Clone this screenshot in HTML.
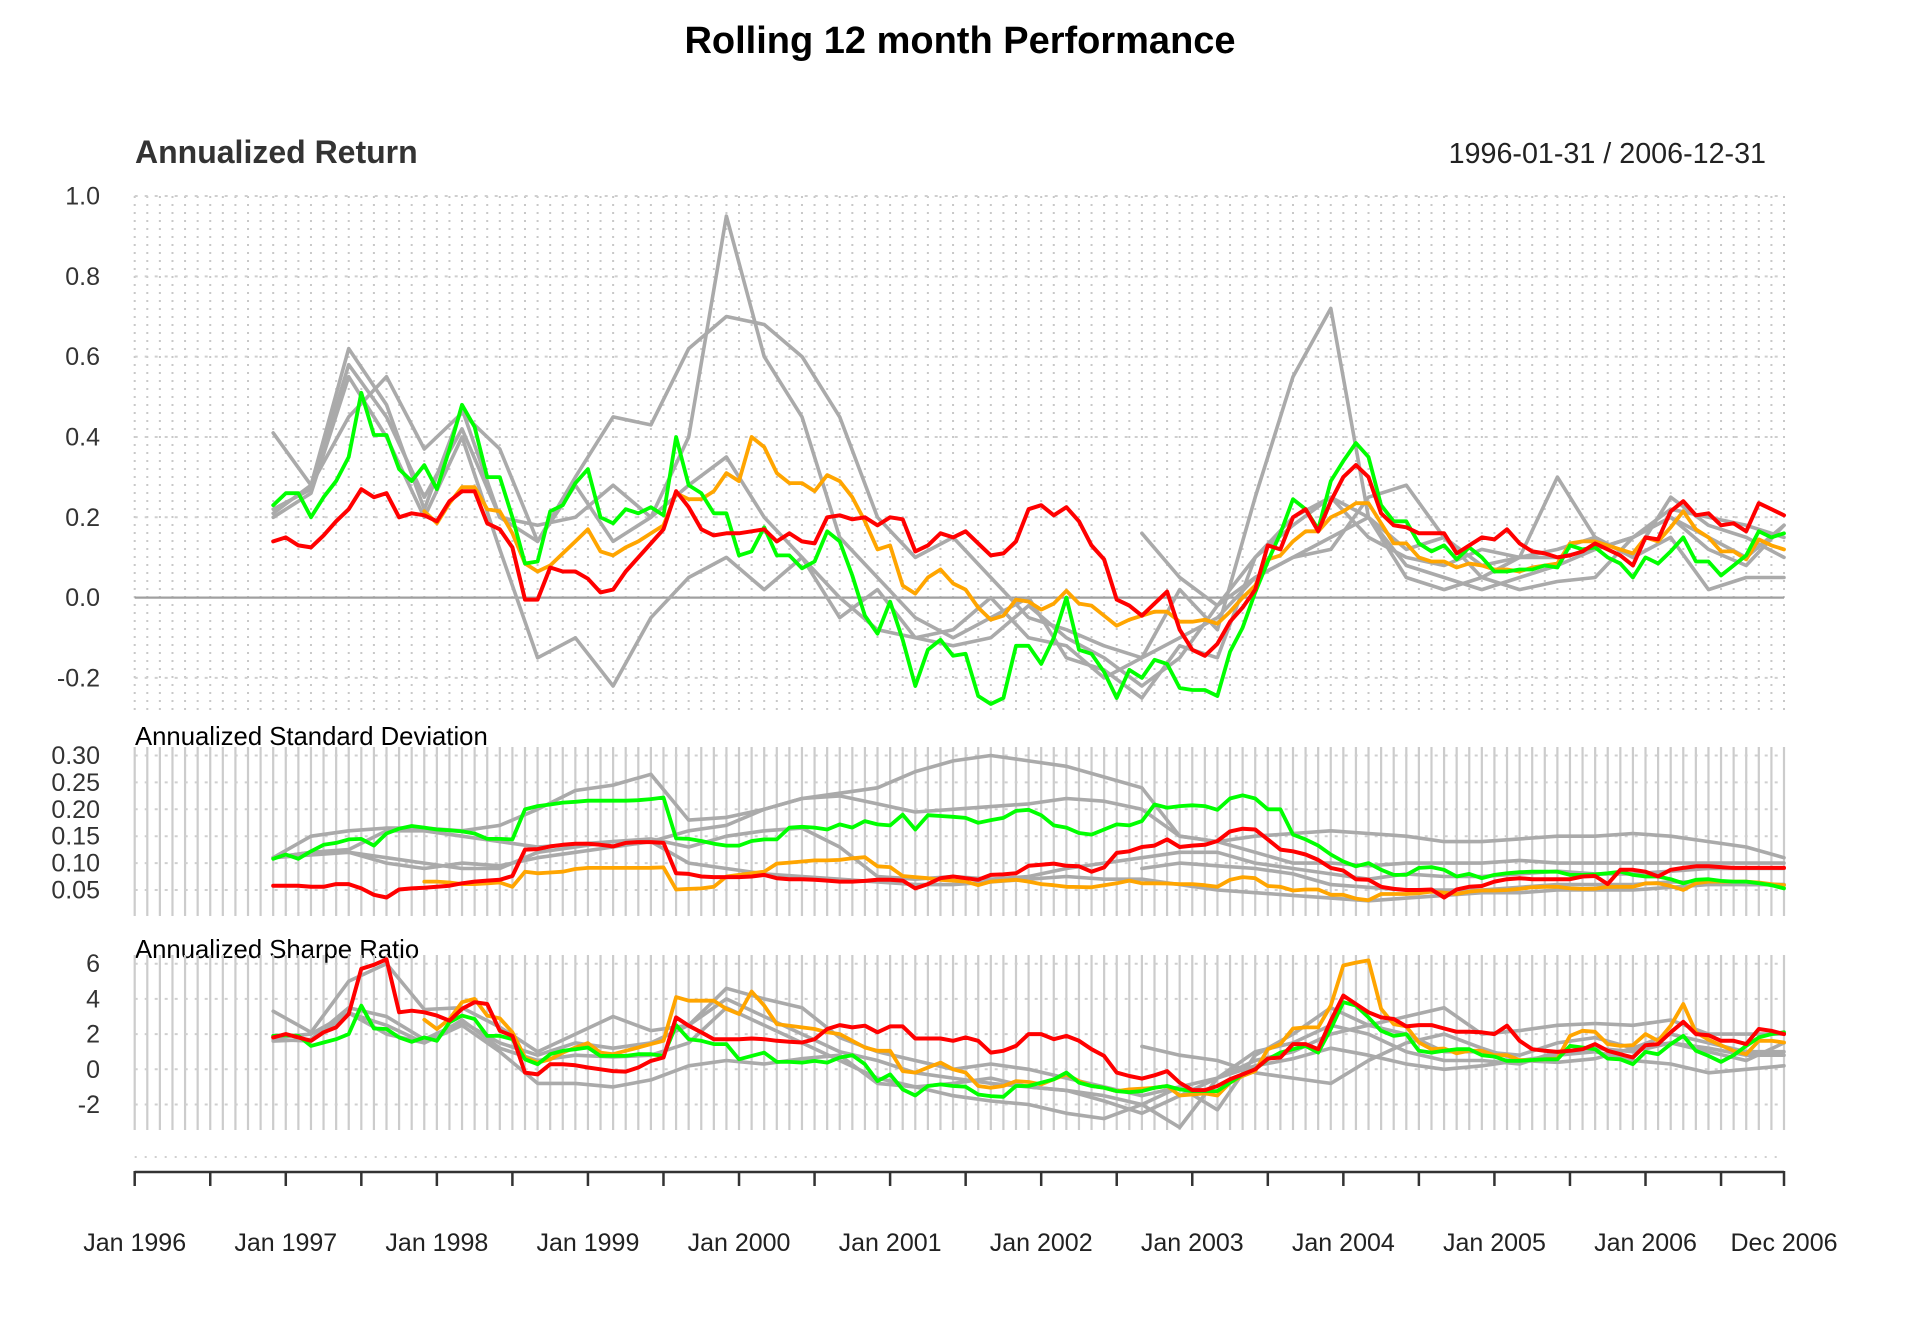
<!DOCTYPE html>
<html><head><meta charset="utf-8"><title>Rolling 12 month Performance</title>
<style>
html,body{margin:0;padding:0;background:#fff;}
svg{display:block;font-family:"Liberation Sans",Arial,sans-serif;}
</style></head>
<body>
<svg id="chart" width="1920" height="1344" viewBox="0 0 1920 1344" xmlns="http://www.w3.org/2000/svg">
<rect width="1920" height="1344" fill="#fff"/>
<text x="960" y="53" text-anchor="middle" font-size="38" font-weight="bold" fill="#000">Rolling 12 month Performance</text>
<text x="135" y="163" font-size="32" font-weight="bold" fill="#333">Annualized Return</text>
<text x="1766" y="163" text-anchor="end" font-size="28.7" fill="#222">1996-01-31 / 2006-12-31</text>
<text x="135" y="745" font-size="25.7" fill="#000">Annualized Standard Deviation</text>
<text x="135" y="958" font-size="25.7" fill="#000">Annualized Sharpe Ratio</text>
<g id="grid"></g>
<g id="series"></g>
<g id="axes"></g>
</svg>
<script>
// ---- data: month index 1 = Jan 1996 ----
const xTickMonths = [1,7,13,19,25,31,37,43,49,55,61,67,73,79,85,91,97,103,109,115,121,127,132];
const xLabelMonths = [1,13,25,37,49,61,73,85,97,109,121,132];
const xLabels = ["Jan 1996","Jan 1997","Jan 1998","Jan 1999","Jan 2000","Jan 2001","Jan 2002","Jan 2003","Jan 2004","Jan 2005","Jan 2006","Dec 2006"];
const retTicks = [1.0,0.8,0.6,0.4,0.2,0.0,-0.2];
const retTickLabels = ["1.0","0.8","0.6","0.4","0.2","0.0","-0.2"];
const stdTicks = [0.30,0.25,0.20,0.15,0.10,0.05];
const stdTickLabels = ["0.30","0.25","0.20","0.15","0.10","0.05"];
const srTicks = [6,4,2,0,-2];
const srTickLabels = ["6","4","2","0","-2"];

const retRed = [.14,.15,.13,.125,.155,.19,.22,.27,.25,.26,.20,.21,.205,.19,.24,.265,.265,.185,.17,.125,-.005,-.005,.075,.065,.065,.047,.013,.02,.065,.10,.135,.17,.265,.225,.17,.155,.16,.16,.165,.17,.14,
.16,.14,.135,.20,.205,.195,.20,.18,.20,.195,.115,.13,.16,.15,.165,.135,.105,.11,.14,.22,.23,.205,.225,.19,.13,.095,-.005,-.02,-.045,-.015,.015,-.08,-.13,-.145,-.115,-.06,-.025,.02,.13,.12,.20,
.22,.165,.24,.30,.33,.30,.21,.18,.175,.16,.16,.16,.11,.13,.15,.145,.17,.135,.115,.11,.10,.105,.115,.135,.12,.105,.08,.15,.145,.215,.24,.205,.21,.18,.185,.165,.235,.22,.205];
const retGreen = [.23,.26,.26,.20,.25,.29,.35,.51,.405,.405,.32,.29,.33,.27,.37,.48,.425,.30,.30,.20,.085,.09,.215,.23,.285,.32,.20,.185,.22,.21,.225,.205,.40,.28,.26,.21,.21,.105,.115,.175,.105,
.105,.073,.09,.165,.14,.055,-.045,-.09,-.01,-.105,-.22,-.13,-.105,-.145,-.14,-.245,-.265,-.25,-.12,-.12,-.165,-.10,0,-.13,-.14,-.185,-.25,-.18,-.20,-.155,-.165,-.225,-.23,-.23,-.245,-.135,-.075,.013,.09,.16,.245,
.22,.17,.29,.34,.385,.35,.23,.19,.19,.135,.115,.13,.095,.125,.10,.065,.065,.07,.07,.08,.075,.13,.12,.125,.10,.085,.05,.10,.085,.115,.15,.09,.09,.055,.08,.105,.165,.15,.16];
const retOrange = [.215,.185,.235,.275,.275,.22,.215,.16,.085,.065,.08,.11,.14,.17,.115,.105,.125,.14,.16,.18,.26,.245,.245,.265,.31,.29,.40,.375,.31,
.285,.285,.265,.305,.29,.25,.19,.12,.13,.03,.01,.05,.07,.035,.02,-.025,-.055,-.045,-.005,-.01,-.03,-.015,.017,-.015,-.02,-.045,-.07,-.055,-.045,-.035,-.035,-.06,-.06,-.055,-.065,-.035,0,.03,.095,.105,.14,
.165,.165,.20,.215,.235,.235,.185,.135,.135,.10,.09,.09,.075,.085,.08,.07,.07,.065,.075,.08,.085,.135,.14,.14,.13,.12,.11,.15,.14,.175,.215,.17,.15,.115,.115,.095,.145,.13,.12];

const stdRed = [.058,.058,.058,.056,.056,.061,.061,.053,.041,.036,.051,.053,.054,.056,.058,.0625,.0656,.0675,.069,.076,.125,.126,.131,.134,.136,.136,.134,.131,.1375,.139,.139,.1375,.081,.08,.075,.074,.074,.074,.075,.078,.072,.07,.07,.069,
.0675,.0656,.0656,.067,.069,.069,.0675,.053,.061,.072,.075,.072,.069,.078,.079,.081,.095,.097,.099,.095,.094,.084,.092,.119,.122,.13,.1325,.144,.13,.1325,.134,.141,.159,.164,.1625,.144,.125,.122,.116,.106,.091,
.086,.07,.069,.056,.052,.05,.05,.051,.036,.051,.056,.0575,.0656,.07,.072,.07,.07,.07,.07,.075,.076,.061,.0875,.0875,.084,.075,.0875,.091,.094,.094,.0925,.091,.091,.091,.091,.091];
const stdGreen = [.108,.116,.108,.122,.134,.1375,.144,.145,.1325,.155,.164,.169,.166,.1625,.161,.159,.155,.145,.145,.144,.20,.206,.209,.2125,.214,.216,.216,.216,.216,.217,.219,.222,.146,.145,.141,.136,.1325,.1325,.141,.144,.144,.166,.1675,.166,
.1625,.172,.166,.178,.172,.17,.19,.1625,.189,.1875,.186,.184,.175,.18,.184,.197,.199,.189,.17,.166,.156,.153,.1625,.172,.17,.178,.209,.203,.206,.2075,.206,.199,.22,.226,.22,.20,.20,.153,.144,.1325,.116,
.103,.094,.10,.0875,.078,.078,.091,.0925,.0875,.075,.08,.072,.078,.081,.083,.084,.084,.084,.078,.078,.079,.081,.084,.078,.075,.075,.07,.0625,.069,.07,.067,.0656,.0656,.0625,.059,.053];
const stdOrange = [.0656,.0656,.064,.061,.061,.0625,.064,.056,.084,.081,.0825,.084,.089,.091,.091,.091,.091,.091,.0912,.092,.051,.052,.053,.056,.075,.078,.081,.084,.099,.101,.103,.105,
.105,.106,.109,.111,.094,.0925,.076,.074,.072,.069,.0675,.0656,.059,.0656,.0675,.069,.0656,.061,.059,.056,.0556,.055,.059,.0625,.0675,.0625,.0625,.062,.061,.061,.059,.056,.069,.074,.072,.0575,.056,.049,.051,.051,.041,
.041,.034,.031,.0425,.0425,.0425,.044,.047,.045,.0425,.047,.049,.049,.05,.052,.055,.056,.056,.053,.052,.0525,.056,.056,.056,.0625,.0625,.0575,.05,.0625,.0656,.0656,.0656,.0656,.064,.061,.059];

const srRed = [1.81,2.0,1.81,1.62,2.1,2.38,3.14,5.71,5.94,6.25,3.24,3.33,3.24,3.05,2.76,3.43,3.81,3.71,2.19,1.9,-0.19,-0.29,0.29,0.29,0.23,0.1,0,-0.1,-0.13,0.1,0.48,0.67,2.95,2.48,2.1,1.71,1.71,1.71,1.75,1.71,1.62,1.56,1.52,1.71,
2.29,2.51,2.38,2.48,2.1,2.44,2.44,1.75,1.75,1.75,1.62,1.81,1.62,0.95,1.05,1.33,2.0,2.0,1.71,1.9,1.62,1.14,0.76,-0.19,-0.38,-0.53,-0.34,-0.1,-0.76,-1.18,-1.18,-0.95,-0.57,-0.29,0,0.61,0.67,1.43,1.43,1.14,2.76,
4.19,3.71,3.24,2.95,2.86,2.44,2.51,2.51,2.32,2.13,2.13,2.1,2.0,2.48,1.62,1.14,1.05,0.99,1.05,1.14,1.43,1.05,0.86,0.67,1.37,1.43,2.1,2.7,2.0,1.94,1.62,1.62,1.43,2.29,2.19,2.0];
const srGreen = [1.9,1.94,1.9,1.33,1.52,1.71,2.0,3.62,2.32,2.29,1.81,1.56,1.81,1.62,2.67,3.05,2.86,1.9,1.9,1.71,.57,.29,.86,1.05,1.14,1.24,.76,.76,.76,.86,.86,.76,2.51,1.71,1.62,1.43,1.43,.57,.76,.95,.42,.42,.38,.48,
.38,.67,.8,.29,-.67,-.29,-1.14,-1.49,-.95,-.86,-.95,-.99,-1.43,-1.52,-1.56,-.95,-.95,-.76,-.57,-.19,-.76,-.95,-1.05,-1.24,-1.3,-1.24,-1.05,-.95,-1.14,-1.24,-1.24,-1.24,-.76,-.29,0,.57,.95,1.14,1.33,.95,2.29,
3.81,3.62,2.95,2.19,1.9,2.0,1.05,.95,1.05,1.14,1.14,.8,.72,.48,.48,.53,.57,.57,1.33,1.24,1.14,.61,.57,.29,.99,.86,1.43,1.9,1.05,.76,.42,.8,1.33,1.81,2.0,2.1];
const srOrange = [2.82,2.29,2.86,3.81,4.0,3.05,2.9,2.1,.67,.38,.57,.95,1.24,1.49,.95,.86,1.05,1.24,1.43,1.62,4.1,3.9,3.9,3.9,3.43,3.14,4.42,3.62,2.57,2.48,2.38,2.29,
2.1,2.0,1.62,1.24,1.05,1.05,-.1,-.19,.1,.38,0,-.19,-.95,-1.05,-.95,-.67,-.72,-.86,-.57,-.29,-.67,-.95,-1.05,-1.24,-1.14,-1.1,-1.05,-.95,-1.49,-1.43,-1.37,-1.49,-.76,-.38,-.1,1.14,1.43,2.32,2.38,2.38,3.62,
5.9,6.06,6.19,3.43,2.57,2.44,1.52,1.14,1.18,.91,1.05,1.05,.8,.8,.53,.53,.57,.61,1.9,2.19,2.13,1.43,1.33,1.37,2.0,1.62,2.48,3.71,2.1,1.68,1.37,1.05,.86,1.62,1.62,1.52];

const retGrayA = [.41,.28,.45,.55,.37,.46,.37,.14,.30,.45,.43,.62,.70,.68,.60,.45,.20,.10,.15,.05,-.05,-.08,-.12,-.15,.02,-.08,.25,.55,.72,.20,.12,.15,.08,.10,.10,.12,.15,.22,.20,.18,.15];
const retGrayB = [.21,.28,.62,.48,.22,.47,.20,.14,.28,.14,.20,.40,.95,.60,.45,.15,.05,-.05,-.10,-.05,0,-.15,-.18,-.25,-.12,-.15,.10,.20,.25,.15,.10,.08,.12,.10,.30,.15,.10,.25,.18,.15,.10];
const retGrayC = [.20,.26,.55,.40,.20,.40,.12,-.15,-.10,-.22,-.05,.05,.10,.02,.10,-.05,.02,-.10,-.08,0,-.10,-.12,-.20,-.15,-.10,-.05,.05,.10,.15,.20,.05,.02,.05,.10,.12,.15,.10,.15,.02,.05,.05];
const retGrayD = [.16,.05,-.02,.05,.10,.12,.25,.28,.15,.05,.02,.04,.05,.15,.20,.12,.08,.18];
const retGrayE = [.22,.27,.58,.45,.25,.42,.20,.18,.20,.28,.20,.28,.35,.20,.10,0,-.08,-.10,-.12,-.10,-.02,-.10,-.15,-.22,-.15,-.02,.10,.18,.25,.20,.08,.05,.02,.05,.08,.12,.15,.20,.15,.10,.18];
const stdGrayA = [.11,.15,.16,.165,.165,.16,.17,.20,.235,.245,.265,.18,.185,.20,.22,.23,.24,.27,.29,.30,.29,.28,.26,.24,.15,.14,.15,.155,.16,.155,.15,.14,.14,.145,.15,.15,.155,.15,.14,.13,.11];
const stdGrayB = [.11,.115,.12,.10,.09,.10,.095,.11,.12,.13,.14,.16,.17,.20,.22,.225,.21,.195,.20,.205,.21,.22,.215,.20,.15,.14,.12,.10,.10,.095,.10,.10,.10,.105,.10,.10,.10,.10,.10,.10,.10];
const stdGrayC = [.11,.12,.125,.16,.16,.15,.14,.13,.135,.14,.145,.13,.15,.16,.165,.13,.075,.07,.075,.07,.075,.09,.10,.11,.12,.12,.10,.09,.08,.07,.08,.075,.075,.08,.085,.08,.08,.085,.09,.09,.09];
const stdGrayD = [.11,.12,.12,.11,.10,.09,.09,.12,.13,.14,.14,.10,.09,.08,.075,.07,.065,.06,.06,.065,.07,.075,.07,.07,.06,.05,.045,.04,.035,.03,.035,.04,.045,.045,.05,.05,.05,.055,.06,.06,.06];
const stdGrayE = [.09,.10,.095,.09,.08,.06,.055,.05,.05,.05,.055,.06,.06,.06,.065,.065,.06,.06];
const srGrayA = [3.3,2.1,5.0,6.0,3.4,3.5,2.4,1.0,2.0,3.0,2.2,2.5,4.6,4.0,3.5,1.8,1.0,.5,0,.3,0,-.5,-1.0,-1.5,-1.0,-2.3,.8,2.0,3.5,2.5,3.0,3.5,2.0,2.2,2.5,2.6,2.5,2.8,2.0,2.0,2.0];
const srGrayB = [1.6,1.7,3.5,3.0,1.7,2.7,1.5,.8,1.5,1.2,1.5,2.5,4.0,3.0,2.0,1.0,.5,-.2,-.5,-.8,-1.0,-1.2,-1.8,-2.5,-1.5,-.5,.5,1.0,2.0,2.5,2.0,1.0,1.0,.8,1.5,1.8,1.2,2.0,1.5,1.0,1.0];
const srGrayC = [1.7,1.6,3.2,2.0,1.5,2.5,1.0,-.8,-.8,-1.0,-.6,.2,.5,.3,.6,.8,-.8,-1.0,-1.5,-1.8,-2.0,-2.5,-2.8,-2.0,-1.0,-.5,.2,.6,1.2,.8,.3,0,.2,.5,.8,1.0,.5,.3,-.2,0,.2];
const srGrayD = [1.3,.8,.5,-.2,-.5,-.8,.5,1.5,2.0,1.2,.5,.4,.6,1.2,1.5,1.2,.8,.8];
const srGrayE = [1.8,2.0,3.2,2.5,1.5,2.8,1.2,.5,.8,.7,.8,1.5,3.5,2.5,1.5,.5,-.5,-1.0,-.8,-.5,-1.0,-1.2,-1.5,-2.0,-3.3,-.5,1.0,1.5,2.5,2.0,1.0,.5,.5,.3,1.0,1.2,1.0,1.5,1.0,.5,1.5];

const X0 = 134.7, X1 = 1784, NM = 132;
function xScale(m){ return X0 + (m-1)*(X1-X0)/(NM-1); }
function yRet(v){ return 597.6 - v*401.6; }
function yStd(v){ return 890 - (v-0.05)*538; }
function ySr(v){ return 1069.3 - v*17.6; }

const NS = "http://www.w3.org/2000/svg";
function mk(tag, attrs, parent){
  const e = document.createElementNS(NS, tag);
  for (const k in attrs) e.setAttribute(k, attrs[k]);
  parent.appendChild(e);
  return e;
}
const grid = document.getElementById('grid');
const seriesG = document.getElementById('series');
const axes = document.getElementById('axes');

const panels = [
  {name:'return', top:196, bot:712, y:yRet, ticks:retTicks, labels:retTickLabels, dotted:true},
  {name:'std', top:747, bot:916, y:yStd, ticks:stdTicks, labels:stdTickLabels, dotted:false},
  {name:'sharpe', top:955, bot:1130, y:ySr, ticks:srTicks, labels:srTickLabels, dotted:false}
];
panels.forEach(p => {
  for (let m = 1; m <= NM; m++){
    const x = xScale(m);
    const l = mk('line', {x1:x, x2:x, y1:p.top, y2:p.bot, stroke: p.dotted ? '#c8c8c8' : '#cccccc', 'stroke-width': p.dotted ? 2 : 2.2, 'stroke-dasharray': p.dotted ? '2,6' : 'none'}, grid);
    
    
  }
  p.ticks.forEach((t, i) => {
    const y = p.y(t);
    const isZero = (p.name === 'return' && t === 0);
    const hl = mk('line', {x1:X0, x2:X1, y1:y, y2:y, stroke: isZero ? '#a0a0a0' : '#cfcfcf', 'stroke-width': isZero ? 2.2 : 2, 'stroke-dasharray': isZero ? 'none' : '3,7'}, grid);
    
    
    const tx = mk('text', {x:100, y:y+8.5, 'text-anchor':'end', 'font-size':25, fill:'#333'}, axes);
    tx.textContent = p.labels[i];
    
    
  });
});

function drawSeries(vals, start, step, yf, color, width, name){
  const pts = vals.map((v, i) => xScale(start + i*step).toFixed(1) + ',' + yf(v).toFixed(1)).join(' ');
  const pl = mk('polyline', {points:pts, fill:'none', stroke:color, 'stroke-width':width, 'stroke-linejoin':'round', 'stroke-linecap':'round'}, seriesG);
  
  
}
const GR = '#aaaaaa', GW = 3.6;
[[retGrayA,12],[retGrayB,12],[retGrayC,12],[retGrayD,81],[retGrayE,12]].forEach(s=>drawSeries(s[0], s[1], 3, yRet, GR, GW, 'return-peer-line'));
[[stdGrayA,12],[stdGrayB,12],[stdGrayC,12],[stdGrayD,12],[stdGrayE,81]].forEach(s=>drawSeries(s[0], s[1], 3, yStd, GR, GW, 'std-peer-line'));
[[srGrayA,12],[srGrayB,12],[srGrayC,12],[srGrayD,81],[srGrayE,12]].forEach(s=>drawSeries(s[0], s[1], 3, ySr, GR, GW, 'sharpe-peer-line'));

drawSeries(retOrange, 24, 1, yRet, '#ffa500', 3.8, 'return-orange-line');
drawSeries(retGreen, 12, 1, yRet, '#00ff00', 3.8, 'return-green-line');
drawSeries(retRed, 12, 1, yRet, '#ff0000', 4, 'return-red-line');
drawSeries(stdOrange, 24, 1, yStd, '#ffa500', 3.8, 'std-orange-line');
drawSeries(stdGreen, 12, 1, yStd, '#00ff00', 3.8, 'std-green-line');
drawSeries(stdRed, 12, 1, yStd, '#ff0000', 4, 'std-red-line');
drawSeries(srOrange, 24, 1, ySr, '#ffa500', 3.8, 'sharpe-orange-line');
drawSeries(srGreen, 12, 1, ySr, '#00ff00', 3.8, 'sharpe-green-line');
drawSeries(srRed, 12, 1, ySr, '#ff0000', 4, 'sharpe-red-line');

const dl = mk('line', {x1:X0, x2:X1, y1:1157, y2:1157, stroke:'#d0d0d0', 'stroke-width':2, 'stroke-dasharray':'2,8'}, axes);


const ax = mk('line', {x1:X0, x2:X1, y1:1172, y2:1172, stroke:'#333', 'stroke-width':2.5}, axes);


xTickMonths.forEach(m => {
  const t = mk('line', {x1:xScale(m), x2:xScale(m), y1:1171, y2:1186, stroke:'#333', 'stroke-width':2.5}, axes);
  
  
});
xLabelMonths.forEach((m, i) => {
  const t = mk('text', {x:xScale(m), y:1251, 'text-anchor':'middle', 'font-size':25, fill:'#222'}, axes);
  t.textContent = xLabels[i];
  
  
});
</script>
</body></html>
